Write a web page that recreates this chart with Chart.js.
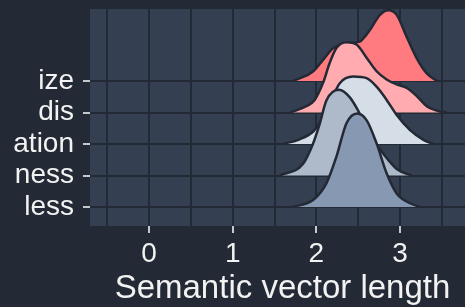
<!DOCTYPE html>
<html>
<head>
<meta charset="utf-8">
<script src="https://cdn.jsdelivr.net/npm/chart.js@4"></script>
<style>
  html, body { margin: 0; padding: 0; background: #232a35; overflow: hidden; }
  #wrap { width: 475px; height: 307px; }
</style>
</head>
<body>
<div id="wrap"><canvas id="chart-area" width="475" height="307"></canvas></div>
<script>
// categories, bottom to top
var categories = ['less', 'ness', 'ation', 'dis', 'ize'];
var fills = ['#8698b2', '#aeb9ca', '#d5dde7', '#ffabb0', '#ff7b7f'];

// ridge outlines: x = vector length, h = ridge height (rows)
var lessX  = [1.72, 1.96, 2.12, 2.24, 2.36, 2.49, 2.60, 2.72, 2.84, 2.96, 3.12, 3.24];
var lessH  = [0,    0.22, 0.75, 1.60, 2.66, 2.97, 2.76, 2.02, 1.07, 0.43, 0.12, 0];
var nessX  = [1.56, 1.84, 1.96, 2.04, 2.12, 2.27, 2.40, 2.52, 2.64, 2.80, 2.96, 3.14];
var nessH  = [0,    0.37, 1.01, 1.64, 2.38, 2.72, 2.48, 1.96, 1.32, 0.69, 0.21, 0];
var ationX = [1.60, 1.80, 1.96, 2.04, 2.16, 2.28, 2.44, 2.60, 2.72, 2.84, 2.96, 3.12, 3.28, 3.40];
var ationH = [0,    0.15, 0.39, 0.66, 1.30, 1.93, 2.14, 2.09, 1.82, 1.40, 0.92, 0.44, 0.13, 0];
var disX   = [1.69, 1.88, 1.98, 2.08, 2.16, 2.24, 2.36, 2.48, 2.60, 2.72, 2.84, 2.96, 3.08, 3.20, 3.32, 3.48, 3.56];
var disH   = [0,    0.20, 0.40, 0.94, 1.58, 2.05, 2.23, 2.16, 1.74, 1.31, 1.05, 0.89, 0.78, 0.52, 0.20, 0.03, 0];
var izeX   = [1.72, 1.96, 2.08, 2.20, 2.36, 2.52, 2.58, 2.64, 2.76, 2.86, 2.96, 3.08, 3.20, 3.32, 3.44];
var izeH   = [0,    0.30, 0.67, 1.04, 1.20, 1.25, 1.41, 1.62, 2.10, 2.25, 2.10, 1.40, 0.72, 0.24, 0];

var ridgeX = [lessX, nessX, ationX, disX, izeX];
var ridgeH = [lessH, nessH, ationH, disH, izeH];

var xTicks = [-0.5, 0, 0.5, 1, 1.5, 2, 2.5, 3, 3.5];

var datasets = [];
for (var i = 0; i < categories.length; i++) {
	var base = i + 1;
	var pts = [];
	for (var j = 0; j < ridgeX[i].length; j++) {
		pts.push({x: ridgeX[i][j], y: base + ridgeH[i][j]});
	}
	// first dataset is painted last, so 'less' stays in front
	datasets.push({
		label: categories[i],
		data: pts,
		backgroundColor: fills[i],
		borderColor: '#232a35',
		borderWidth: 2.5,
		pointRadius: 0,
		cubicInterpolationMode: 'monotone',
		fill: {value: base}
	});
}

var panelBg = {
	id: 'panelBg',
	beforeDraw: function (chart) {
		var a = chart.chartArea;
		chart.ctx.save();
		chart.ctx.fillStyle = '#343f51';
		chart.ctx.fillRect(a.left, a.top, a.right - a.left, a.bottom - a.top);
		chart.ctx.restore();
	}
};

// keep the panel where the picture has it, labels may overflow
function noPad(scale) {
	scale.paddingTop = 0;
	scale.paddingBottom = 0;
	scale.paddingLeft = 0;
	scale.paddingRight = 0;
}

var font = 'Liberation Sans, Arial, sans-serif';

var config = {
	type: 'line',
	data: { datasets: datasets },
	options: {
		responsive: false,
		animation: false,
		layout: { padding: { top: 9, left: 0, right: 0, bottom: 0 } },
		plugins: { legend: { display: false }, tooltip: { enabled: false } },
		scales: {
			x: {
				type: 'linear',
				min: -0.705,
				max: 3.896,
				afterBuildTicks: function (scale) {
					scale.ticks = xTicks.map(function (v) { return {value: v}; });
				},
				afterFit: function (scale) { scale.height = 81; noPad(scale); },
				border: { display: false },
				grid: {
					color: '#232a35',
					lineWidth: 2,
					tickLength: 7,
					tickWidth: 2,
					tickColor: function (ctx) {
						return (ctx.tick && ctx.tick.value % 1 === 0) ? '#c4c8cf' : 'rgba(0,0,0,0)';
					}
				},
				ticks: {
					color: '#f2f2f2',
					padding: 4,
					maxRotation: 0,
					autoSkip: false,
					font: { family: font, size: 28, lineHeight: 1.2 },
					callback: function (v) { return v % 1 === 0 ? String(v) : ''; }
				},
				title: {
					display: true,
					text: 'Semantic vector length',
					color: '#f2f2f2',
					padding: { top: 0, bottom: 2 },
					font: { family: font, size: 33, lineHeight: 1 }
				}
			},
			y: {
				type: 'linear',
				min: 0.397,
				max: 7.286,
				afterBuildTicks: function (scale) {
					scale.ticks = categories.map(function (c, k) { return {value: k + 1}; });
				},
				afterFit: function (scale) { scale.width = 90; noPad(scale); },
				border: { display: false },
				grid: {
					color: '#232a35',
					lineWidth: 2,
					tickLength: 7,
					tickWidth: 2,
					tickColor: '#c4c8cf'
				},
				ticks: {
					color: '#f2f2f2',
					padding: 9,
					autoSkip: false,
					font: { family: font, size: 28, lineHeight: 1.2 },
					callback: function (v) { return categories[v - 1]; }
				}
			}
		}
	},
	plugins: [panelBg]
};

var ctx = document.getElementById('chart-area');
var myRidgeChart = new Chart(ctx, config);
</script>
</body>
</html>
